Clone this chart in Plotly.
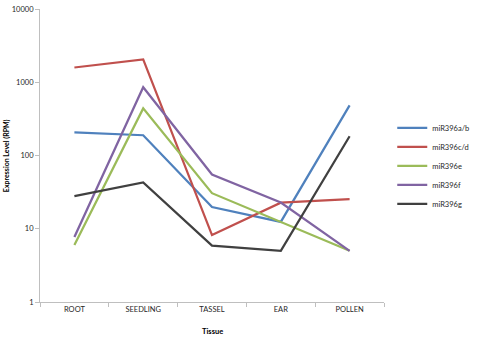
import plotly.graph_objects as go

tissues = ["ROOT", "SEEDLING", "TASSEL", "EAR", "POLLEN"]
mir396ab = [207, 189, 19.8, 12.4, 483]
mir396cd = [1590, 2050, 8.2, 22.7, 25.4]
mir396e = [6.0, 440, 30.6, 12.4, 5.0]
mir396f = [7.7, 855, 55, 22.8, 5.0]
mir396g = [27.9, 43, 5.9, 5.0, 183]

series = [
    ("miR396a/b", mir396ab, "#4F81BD"),
    ("miR396c/d", mir396cd, "#C0504D"),
    ("miR396e", mir396e, "#9BBB59"),
    ("miR396f", mir396f, "#8064A2"),
    ("miR396g", mir396g, "#404040"),
]

FONT = "Lato, Liberation Sans, sans-serif"

fig = go.Figure()
for name, vals, color in series:
    fig.add_trace(go.Scatter(x=tissues, y=vals, name=name, mode="lines",
                             line=dict(color=color, width=2.25)))

fig.update_layout(
    width=479, height=338,
    margin=dict(l=40, r=91, t=5, b=36),
    paper_bgcolor="white", plot_bgcolor="white",
    font=dict(family=FONT, size=7.5, color="#262626"),
    showlegend=True,
    legend=dict(x=1.024, xanchor="left", y=0.465, yanchor="middle",
                font=dict(size=7.5, color="#262626"), tracegroupgap=0,
                bgcolor="rgba(0,0,0,0)", borderwidth=0),
    xaxis=dict(type="category", range=[-0.5, 4.5], showline=True,
               linecolor="#BFBFBF", linewidth=1, ticks="outside",
               tickson="boundaries", ticklen=4, tickcolor="#BFBFBF",
               showgrid=False, zeroline=False, fixedrange=True),
    yaxis=dict(type="log", range=[0, 4], showline=True, linecolor="#BFBFBF",
               linewidth=1, ticks="outside", ticklen=4, tickcolor="#BFBFBF",
               tickvals=[1, 10, 100, 1000, 10000],
               ticktext=["1", "10", "100", "1000", "10000"],
               showgrid=False, zeroline=False, fixedrange=True),
    annotations=[
        dict(text="<b>Expression Level (RPM)</b>", textangle=-90,
             xref="paper", yref="paper", x=-0.097, y=0.5,
             xanchor="center", yanchor="middle", showarrow=False,
             font=dict(size=7, color="#000000")),
        dict(text="<b>Tissue</b>", xref="paper", yref="paper",
             x=0.5, y=-0.101, xanchor="center", yanchor="middle",
             showarrow=False, font=dict(size=7.5, color="#000000")),
    ],
)

fig.write_html("out.html", config={"displayModeBar": False},
               post_script="document.body.style.margin='0';document.body.style.overflow='hidden';")
